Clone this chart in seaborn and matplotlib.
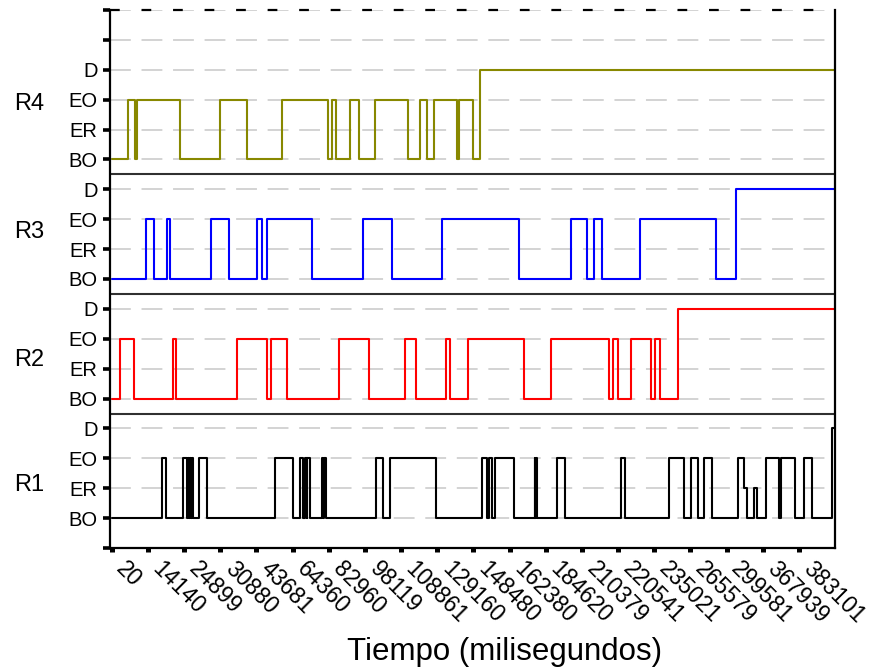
import matplotlib
matplotlib.use("Agg")
import matplotlib.pyplot as plt
import seaborn as sns
import pandas as pd

sns.set_theme(style="white")
plt.rcParams["font.family"] = ["Liberation Sans", "DejaVu Sans"]
plt.rcParams["lines.scale_dashes"] = False
plt.rcParams["text.color"] = "black"
plt.rcParams["xtick.color"] = "black"
plt.rcParams["ytick.color"] = "black"
plt.rcParams["axes.labelcolor"] = "black"

# ---------------- data ----------------
state_names = ["BO", "ER", "EO", "D"]
series_names = ["R1", "R2", "R3", "R4"]
series_colors = ["#000000", "#ff0000", "#0000ff", "#888800"]
x_tick_labels = ["20", "14140", "24899", "30880", "43681", "64360", "82960",
                 "98119", "108861", "129160", "148480", "162380", "184620",
                 "210379", "220541", "235021", "265579", "299581", "367939",
                 "383101"]
t_end = 20.0

# transition times (in tick-index units) and state entered at each time
r1_t = [0, 1.39, 1.51, 1.97, 2.07, 2.10, 2.13, 2.15, 2.18, 2.21, 2.24, 2.41, 2.63,
        4.50, 5.01, 5.21, 5.30, 5.33, 5.39, 5.41, 5.47, 5.81, 5.84, 5.87, 5.91,
        7.31, 7.49, 7.70, 8.97, 10.23, 10.37, 10.43, 10.51, 10.61, 11.11,
        11.69, 11.71, 11.74, 11.77, 12.30, 12.53, 14.08, 14.19, 15.40, 15.83,
        16.01, 16.22, 16.38, 16.61, 17.33, 17.47, 17.56, 17.76, 17.85, 18.09,
        18.45, 18.51, 18.90, 19.14, 19.36, 19.93]
r1_s = ["BO", "EO", "BO", "EO", "BO", "EO", "BO", "EO", "BO", "EO", "BO", "EO", "BO",
        "EO", "BO", "EO", "BO", "EO", "BO", "EO", "BO", "EO", "BO", "EO", "BO",
        "EO", "BO", "EO", "BO", "EO", "BO", "EO", "BO", "EO", "BO",
        "EO", "BO", "EO", "BO", "EO", "BO", "EO", "BO", "EO", "BO",
        "EO", "BO", "EO", "BO", "EO", "ER", "BO", "ER", "BO", "EO",
        "BO", "EO", "BO", "EO", "BO", "D"]

r2_t = [0, 0.24, 0.62, 1.69, 1.77, 3.47, 4.30, 4.39, 4.85, 6.27, 7.10, 8.10, 8.40,
        9.25, 9.34, 9.84, 11.39, 12.15, 13.74, 13.85, 14.01, 14.36, 14.91, 15.02,
        15.17, 15.67]
r2_s = ["BO", "EO", "BO", "EO", "BO", "EO", "BO", "EO", "BO", "EO", "BO", "EO", "BO",
        "EO", "BO", "EO", "BO", "EO", "BO", "EO", "BO", "EO", "BO", "EO",
        "BO", "D"]

r3_t = [0, 0.94, 1.17, 1.54, 1.60, 2.75, 3.24, 4.01, 4.16, 4.29, 5.54, 6.94, 7.75,
        9.14, 11.27, 12.70, 13.13, 13.34, 13.57, 14.61, 16.70, 17.26]
r3_s = ["BO", "EO", "BO", "EO", "BO", "EO", "BO", "EO", "BO", "EO", "BO", "EO", "BO",
        "EO", "BO", "EO", "BO", "EO", "BO", "EO", "BO", "D"]

r4_t = [0, 0.44, 0.64, 0.69, 1.88, 2.98, 3.73, 4.72, 5.99, 6.10, 6.21, 6.59, 6.83,
        7.27, 8.20, 8.51, 8.73, 8.90, 9.54, 9.60, 10.00, 10.17]
r4_s = ["BO", "EO", "BO", "EO", "BO", "EO", "BO", "EO", "BO", "EO", "BO", "EO", "BO",
        "EO", "BO", "EO", "BO", "EO", "BO", "EO", "BO", "D"]

label_y = [2.11, 6.29, 10.57, 14.85]

# ---------------- figure ----------------
fig = plt.figure(figsize=(8.81, 6.69), dpi=100)
ax = fig.add_axes([110 / 881, 121 / 669, 725 / 881, 538 / 669])

n_levels = len(state_names)
all_t = [r1_t, r2_t, r3_t, r4_t]
all_s = [r1_s, r2_s, r3_s, r4_s]

# grid lines
for v in range(1, 19):
    ax.axhline(v, color="#c8c8c8", lw=1.1, dashes=(15, 7.7), zorder=0.5)
ax.axhline(18, color="black", lw=1.6, dashes=(7, 15.7), zorder=3, clip_on=False)

for i, (name, t, s, c) in enumerate(zip(series_names, all_t, all_s, series_colors)):
    offset = 1 + i * n_levels
    ys = [offset + state_names.index(k) for k in s]
    df = pd.DataFrame({"t": list(t) + [t_end], "y": ys + [ys[-1]]})
    sns.lineplot(data=df, x="t", y="y", ax=ax, color=c, lw=1.5,
                 drawstyle="steps-post", estimator=None, sort=False, zorder=2)
    ax.text(-0.112, label_y[i], name, transform=ax.get_yaxis_transform(),
            ha="center", va="center", fontsize=17)

# panel separators
for sep in [4.5, 8.5, 12.5]:
    ax.axhline(sep, color="#303030", lw=1.5, zorder=1)

ax.set_xlim(-0.05, t_end)
ax.set_ylim(0, 18)

ax.set_yticks(range(19))
ax.set_yticklabels([""] + state_names * 4 + ["", ""], fontsize=14.5)
ax.set_xticks(range(len(x_tick_labels)))
ax.set_xticklabels(x_tick_labels, rotation=-45, ha="left", va="top", fontsize=16.5)

ax.tick_params(axis="y", direction="out", length=5, width=2.6, pad=4, left=True)
ax.tick_params(axis="x", direction="out", length=3, width=3.6, pad=4, bottom=True)

ax.set_xlabel("")
ax.set_ylabel("")
ax.spines["top"].set_visible(False)
for sp in ["left", "right", "bottom"]:
    ax.spines[sp].set_color("black")
    ax.spines[sp].set_linewidth(1.6)

fig.text(505 / 881, 9 / 669, "Tiempo (milisegundos)", ha="center", va="baseline",
         fontsize=22.5)

fig.savefig("out.png", dpi=100)
